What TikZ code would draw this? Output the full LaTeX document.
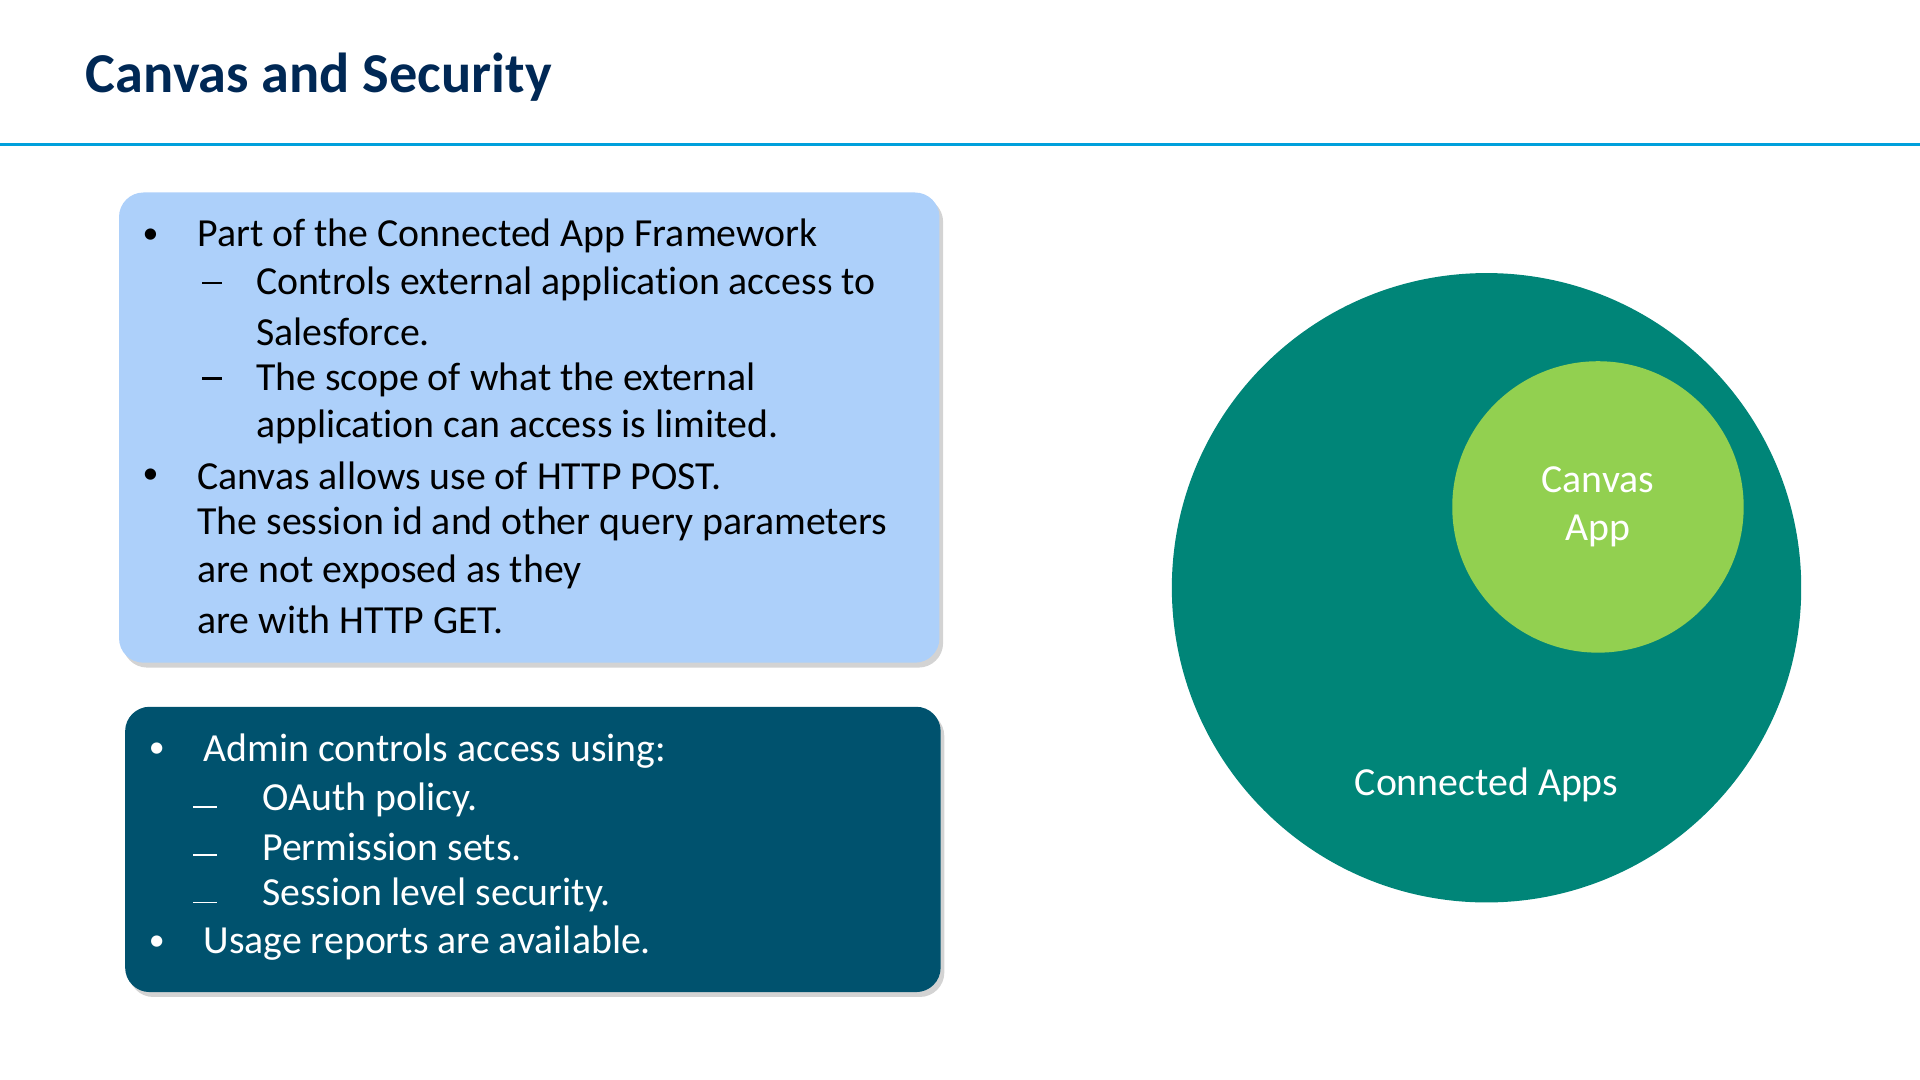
\documentclass[tikz,border=0pt]{standalone}
\usepackage{fontspec}
\setmainfont{Carlito}[Ligatures={NoCommon,NoRare,NoDiscretionary}]
\usetikzlibrary{shadows}
\definecolor{navy}{RGB}{0,40,85}
\definecolor{rule}{RGB}{0,160,220}
\definecolor{lblue}{RGB}{173,208,250}
\definecolor{dteal}{RGB}{0,82,110}
\definecolor{teal}{RGB}{0,133,120}
\definecolor{lgreen}{RGB}{146,208,80}
\begin{document}
\begin{tikzpicture}[x=1pt,y=-1pt,
  box/.style={rounded corners=20pt,drop shadow={shadow xshift=3pt,shadow yshift=-4pt,opacity=0.35}},
  t/.style={anchor=west,inner sep=0pt,font=\fontsize{32.5}{38}\selectfont},
  tw/.style={t,text=white},
  bul/.style={anchor=center,inner sep=0pt,font=\fontsize{26}{30}\selectfont},
  sdash/.style={line width=2pt}]
\useasboundingbox (0,0) rectangle (1568,882);
\node[anchor=west,inner sep=0pt,text=navy,font=\fontsize{46}{52}\selectfont\bfseries] (title) at (70,63) {Canvas and Security};
\draw[rule,line width=3pt] (0,118) -- (1568,118);
\node[box,fill=lblue,minimum width=670pt,minimum height=384pt,anchor=north west] (b1) at (97,157) {};
\node[box,fill=dteal,minimum width=666pt,minimum height=233pt,anchor=north west] (b2) at (102,577) {};
\begin{scope}[yshift=-3pt]
\node[bul] (a1) at (123,190) {•};
\node[t] (a2) at (161,190) {Part of the Connected App Framework};
\coordinate (d1a) at (165,228); \coordinate (d1b) at (181,228);
\draw[sdash] (d1a) -- (d1b);
\node[t] (a4) at (209,229) {Controls external application access to};
\node[t] (a5) at (209,268) {Salesforce.};
\coordinate (d2a) at (165,306); \coordinate (d2b) at (181,306);
\draw[sdash] (d2a) -- (d2b);
\node[t] (a7) at (209,307) {The scope of what the external};
\node[t] (a8) at (209,346) {application can access is limited.};
\node[bul] (a9) at (123,386) {•};
\node[t] (a10) at (161,386) {Canvas allows use of HTTP POST.};
\node[t] (a11) at (161,425) {The session id and other query parameters};
\node[t] (a12) at (161,464) {are not exposed as they};
\node[t] (a13) at (161,503) {are with HTTP GET.};
\node[bul,text=white] (c1) at (128,610) {•};
\node[tw] (c2) at (166,610) {Admin controls access using:};
\coordinate (e1a) at (158,656); \coordinate (e1b) at (177,656);
\draw[white,line width=1.5pt] (e1a) -- (e1b);
\node[tw] (c4) at (214,650) {OAuth policy.};
\coordinate (e2a) at (158,695); \coordinate (e2b) at (177,695);
\draw[white,line width=1.5pt] (e2a) -- (e2b);
\node[tw] (c6) at (214,689) {Permission sets.};
\coordinate (e3a) at (158,734); \coordinate (e3b) at (177,734);
\draw[white,line width=1.5pt] (e3a) -- (e3b);
\node[tw] (c8) at (214,728) {Session level security.};
\node[bul,text=white] (c9) at (128,767) {•};
\node[tw] (c10) at (166,767) {Usage reports are available.};
\end{scope}
\node[circle,fill=teal,minimum size=514pt,inner sep=0pt] (big) at (1214,480) {};
\node[circle,fill=lgreen,minimum size=238pt,inner sep=0pt,text=white,align=center,font=\fontsize{32.5}{39}\selectfont] (small) at (1305,414) {Canvas\\App};
\node[text=white,font=\fontsize{32.5}{38}\selectfont] (lab) at (1214,641) {Connected Apps};
\end{tikzpicture}
\end{document}
